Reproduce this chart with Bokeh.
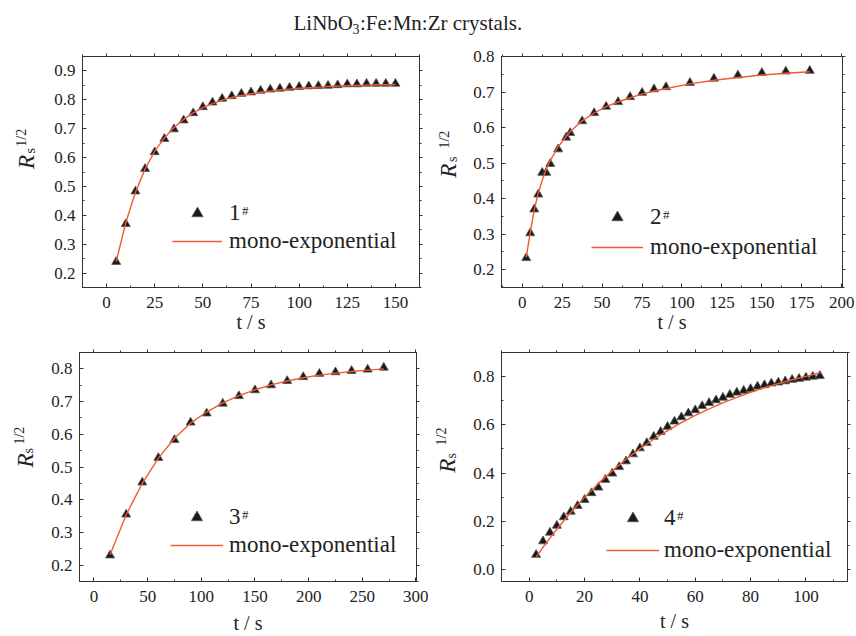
import math
from bokeh.plotting import figure
from bokeh.models import (Range1d, LinearAxis, SingleIntervalTicker, PrintfTickFormatter,
                          CustomJSTickFormatter, Label, Legend, LegendItem)
from bokeh.core.properties import value
from bokeh.layouts import column, row
from bokeh.embed import file_html
from bokeh.resources import INLINE

SERIF = "Liberation Serif"
ORANGE = "#f25a36"
INK = "#222222"

# ---------------- data ----------------
t1 = [5, 10, 15, 20, 25, 30, 35, 40, 45, 50, 55, 60, 65, 70, 75, 80, 85, 90, 95, 100,
      105, 110, 115, 120, 125, 130, 135, 140, 145, 150]
r1 = [0.239, 0.370, 0.483, 0.561, 0.619, 0.665, 0.698, 0.729, 0.754, 0.775, 0.791, 0.804,
      0.813, 0.821, 0.826, 0.832, 0.836, 0.839, 0.842, 0.845, 0.847, 0.848, 0.849, 0.851,
      0.854, 0.854, 0.856, 0.856, 0.856, 0.856]
fit1 = [0.240, 0.375, 0.480, 0.560, 0.622, 0.668, 0.704, 0.732, 0.755, 0.773, 0.787, 0.799,
        0.808, 0.815, 0.821, 0.826, 0.830, 0.834, 0.837, 0.840, 0.842, 0.844, 0.846, 0.848,
        0.849, 0.850, 0.851, 0.852, 0.852, 0.853]

t2 = [2.5, 5, 7.5, 10, 12.5, 15, 17.5, 22.5, 27.5, 30, 37.5, 45, 52.5, 60, 67.5, 75, 82.5,
      90, 105, 120, 135, 150, 165, 180]
r2 = [0.233, 0.303, 0.370, 0.412, 0.473, 0.473, 0.498, 0.539, 0.572, 0.585, 0.618, 0.641,
      0.659, 0.672, 0.686, 0.698, 0.708, 0.714, 0.726, 0.738, 0.747, 0.754, 0.758, 0.760]
fit2 = [0.235, 0.305, 0.368, 0.415, 0.452, 0.482, 0.507, 0.546, 0.575, 0.589, 0.619, 0.641,
        0.659, 0.672, 0.684, 0.694, 0.703, 0.710, 0.723, 0.733, 0.741, 0.748, 0.753, 0.757]

t3 = [15, 30, 45, 60, 75, 90, 105, 120, 135, 150, 165, 180, 195, 210, 225, 240, 255, 270]
r3 = [0.230, 0.355, 0.453, 0.528, 0.583, 0.636, 0.664, 0.694, 0.717, 0.735, 0.750, 0.763,
      0.775, 0.785, 0.790, 0.794, 0.798, 0.804]
fit3 = [0.232, 0.354, 0.450, 0.527, 0.588, 0.634, 0.668, 0.696, 0.718, 0.736, 0.751, 0.763,
        0.773, 0.781, 0.787, 0.792, 0.796, 0.800]

t4 = [2.5, 5, 7.5, 10, 12.5, 15, 17.5, 20, 22.5, 25, 27.5, 30, 32.5, 35, 37.5, 40, 42.5,
      45, 47.5, 50, 52.5, 55, 57.5, 60, 62.5, 65, 67.5, 70, 72.5, 75, 77.5, 80, 82.5, 85,
      87.5, 90, 92.5, 95, 97.5, 100, 102.5, 105]
r4 = [0.061, 0.117, 0.153, 0.182, 0.217, 0.240, 0.264, 0.289, 0.317, 0.340, 0.372, 0.398,
      0.425, 0.449, 0.478, 0.503, 0.525, 0.551, 0.571, 0.592, 0.614, 0.632, 0.648, 0.661,
      0.678, 0.691, 0.702, 0.713, 0.725, 0.734, 0.742, 0.749, 0.759, 0.765, 0.772, 0.776,
      0.781, 0.787, 0.791, 0.796, 0.800, 0.803]
tf4 = [2.5, 5, 10, 15, 20, 25, 30, 35, 40, 45, 50, 55, 60, 65, 70, 75, 80, 85, 90, 95, 100, 105]
fit4 = [0.051, 0.092, 0.167, 0.236, 0.299, 0.357, 0.409, 0.457, 0.500, 0.540, 0.576, 0.609,
        0.639, 0.666, 0.691, 0.714, 0.735, 0.754, 0.771, 0.787, 0.801, 0.816]

labels = ["1", "2", "3", "4"]
fit_name = "mono-exponential"
x_title = "t / s"
title_main = "LiNbO"
title_sub = "3"
title_rest = ":Fe:Mn:Zr crystals."


def blank():
    return CustomJSTickFormatter(code="return ''")


def bare_fig(W, H):
    # a plain canvas whose data units equal pixels (y measured upwards)
    f = figure(width=W, height=H, x_range=Range1d(0, W), y_range=Range1d(0, H),
               output_backend="svg", toolbar_location=None, title=None,
               x_axis_type=None, y_axis_type=None, min_border=0)
    f.outline_line_color = None
    f.background_fill_color = "white"
    f.border_fill_color = "white"
    return f


def put_text(f, x, y, txt, size, style="normal", angle=0.0, align="left"):
    f.text(x=[x], y=[y], text=[txt], angle=angle,
           text_font=value(SERIF), text_font_size=value(size),
           text_font_style=style, text_color=INK,
           text_align=align, text_baseline="middle")


def ylabel_fig(W, H, pos, dy=-13):
    # pos: centres of "R", "s" (subscript) and "1/2" (superscript)
    f = bare_fig(W, H)
    ang = math.pi / 2
    (rx, ry), (sx, sy), (ux, uy) = pos
    put_text(f, rx, ry + dy, "R", "23px", "italic", ang, "center")
    put_text(f, sx, sy + dy, "s", "14px", "normal", ang, "center")
    put_text(f, ux, uy + dy, "1/2", "14px", "normal", ang, "center")
    return f


def make_panel(tx, ry, tfx, fy, lab, W, H, bl, br, bt, bb, xr, yr, xint, yint,
               leg_loc, gw, sp, so, xlab_standoff):
    p = figure(width=W, height=H, x_range=Range1d(*xr), y_range=Range1d(*yr),
               output_backend="svg", toolbar_location=None,
               x_axis_type=None, y_axis_type=None,
               min_border_left=bl, min_border_right=br,
               min_border_top=bt, min_border_bottom=bb)
    p.outline_line_color = "#333333"
    p.outline_line_width = 1
    p.background_fill_color = "white"
    p.border_fill_color = "white"

    xt = SingleIntervalTicker(interval=xint, num_minor_ticks=2)
    yt = SingleIntervalTicker(interval=yint, num_minor_ticks=2)

    bottom = LinearAxis(ticker=xt, formatter=PrintfTickFormatter(format="%d"),
                        axis_label=x_title)
    left = LinearAxis(ticker=yt, formatter=PrintfTickFormatter(format="%.1f"))
    top = LinearAxis(ticker=xt, formatter=blank())
    right = LinearAxis(ticker=yt, formatter=blank())
    for ax in (bottom, left):
        ax.major_tick_in = 4
        ax.major_tick_out = 0
        ax.minor_tick_in = 2
        ax.minor_tick_out = 0
        ax.major_label_text_font = SERIF
        ax.major_label_text_font_size = "17px"
        ax.major_label_text_color = INK
    bottom.major_label_standoff = 9
    left.major_label_standoff = 7
    bottom.axis_label_text_font = SERIF
    bottom.axis_label_text_font_size = "20px"
    bottom.axis_label_text_font_style = "normal"
    bottom.axis_label_text_color = INK
    bottom.axis_label_standoff = xlab_standoff
    for ax in (top, right):
        ax.major_tick_in = 0
        ax.major_tick_out = 3
        ax.minor_tick_in = 0
        ax.minor_tick_out = 2
        ax.major_label_standoff = 0
        ax.major_label_text_font_size = "1px"
    for ax in (bottom, left, top, right):
        ax.axis_line_color = "#333333"
        ax.major_tick_line_color = "#333333"
        ax.minor_tick_line_color = "#333333"
    p.add_layout(bottom, "below")
    p.add_layout(left, "left")
    p.add_layout(top, "above")
    p.add_layout(right, "right")

    sc = p.scatter(tx, ry, marker="triangle", size=9, fill_color="#1a1a1a",
                   line_color="#555555", line_width=0.8)
    ln = p.line(tfx, fy, line_color=ORANGE, line_width=1.4)

    leg = Legend(items=[LegendItem(label=lab, renderers=[sc]),
                        LegendItem(label=fit_name, renderers=[ln])],
                 location=leg_loc, orientation="vertical",
                 border_line_color=None, background_fill_alpha=0,
                 padding=0, margin=0, spacing=sp, glyph_width=gw, glyph_height=28,
                 label_height=28, label_standoff=so,
                 label_text_font=SERIF, label_text_font_size="23px",
                 label_text_color=INK)
    p.add_layout(leg, "center")

    # superscript '#'
    row1_center = leg_loc[1] + 28 + sp + 14
    p.add_layout(Label(x=leg_loc[0] + gw + so + 12.5, y=row1_center + 3,
                       x_units="screen", y_units="screen", text="#",
                       text_font=SERIF, text_font_size="13px", text_color=INK,
                       text_align="left", text_baseline="alphabetic"))
    return p


# title strip (page origin is the window's top-left); y measured up from y=40
tfig = bare_fig(856, 40)
put_text(tfig, 293, 17.8, title_main, "21px")
put_text(tfig, 352, 11.7, title_sub, "14px")
put_text(tfig, 359.5, 17.8, title_rest, "21px")

# y-axis title strips (left of each panel); centres, y measured up from row bottom
y1 = ylabel_fig(40, 300, [(25.8, 176), (30, 190.5), (20.5, 207.5)])
y2 = ylabel_fig(40, 300, [(19.5, 164.5), (24.3, 179.5), (15.6, 205)])
y3 = ylabel_fig(40, 296, [(24.5, 169.5), (28.3, 182), (19, 201.5)])
y4 = ylabel_fig(40, 296, [(18.5, 162.5), (22.8, 175.5), (13.3, 200.5)])

p1 = make_panel(t1, r1, t1, fit1, labels[0], 388, 300, 42, 9, 16, 53,
                (-12.5, 162.5), (0.15, 0.95), 25, 0.1,
                (90, 32), 50, 0, 7, 0)
p2 = make_panel(t2, r2, t2, fit2, labels[1], 388, 300, 33, 14, 16, 53,
                (-13, 200.5), (0.15, 0.80), 25, 0.1,
                (90, 26), 52, 2, 7, 0)
p3 = make_panel(t3, r3, t3, fit3, labels[2], 388, 296, 39, 12, 9, 54,
                (-13.5, 300.5), (0.15, 0.85), 50, 0.1,
                (91, 22), 53, 0, 6, 7)
p4 = make_panel(t4, r4, tf4, fit4, labels[3], 388, 296, 33, 9, 12, 49,
                (-10, 115), (-0.05, 0.90), 20, 0.2,
                (105, 17), 53, 4, 5, 5)

layout = column(tfig, row(y1, p1, y2, p2), row(y3, p3, y4, p4))

open("out.html", "w").write(file_html(layout, INLINE))
